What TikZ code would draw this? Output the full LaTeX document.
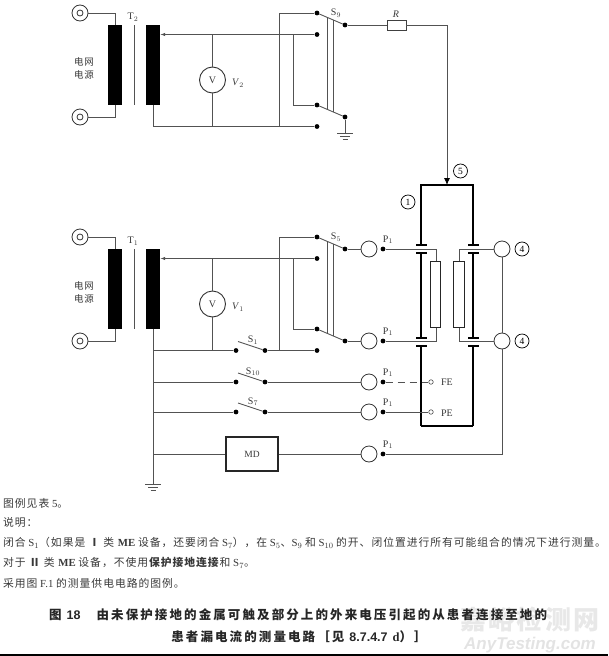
\documentclass[tikz,border=0pt]{standalone}
\usepackage{fontspec}
\setmainfont{Liberation Serif}
\newfontfamily\cjk[LetterSpace=9]{Noto Sans CJK SC}
\newfontfamily\cjkcap[LetterSpace=16.8]{Noto Sans CJK SC}
\newfontfamily\marksans{Liberation Sans}
\newcommand{\zh}[1]{{\cjk #1}}
\usetikzlibrary{positioning,arrows.meta,calc}
\definecolor{wirecol}{gray}{0.32}
\definecolor{inkcol}{gray}{0.22}
\tikzset{
  wire/.style={draw=wirecol, line width=.9pt},
  heavy/.style={draw=black, line width=1.5pt},
  dotnode/.style={circle, fill=black, inner sep=0pt, minimum size=4.8pt},
  jack/.style={circle, draw=black!80, line width=.8pt, inner sep=0pt, minimum size=16pt},
  winding/.style={rectangle, fill=black, inner sep=0pt, minimum width=14pt, minimum height=80pt},
  plate/.style={rectangle, fill=black, inner sep=0pt, minimum width=11pt, minimum height=1.7pt},
  elem/.style={rectangle, draw=black!85, line width=1pt, fill=white, inner sep=0pt, minimum width=10.5pt, minimum height=66pt},
  callout/.style={circle, draw=black, line width=.7pt, inner sep=0pt, minimum size=14pt, font=\fontsize{9.5}{9.5}\selectfont},
  lab/.style={text=inkcol, inner sep=0pt, font=\fontsize{10}{10}\selectfont},
  bodyline/.style={anchor=west, text=inkcol, inner sep=0pt, font=\fontsize{10.8}{11}\selectfont},
  capline/.style={text=black!85, inner sep=0pt, font=\cjkcap\bfseries\fontsize{12.5}{13}\selectfont},
}
\begin{document}
\begin{tikzpicture}[x=1pt,y=-1pt]
\useasboundingbox (0,0) rectangle (608,656);
% watermark
\node[text=black!9, inner sep=0pt, font=\cjk\bfseries\fontsize{26}{27}\selectfont] (markcn) at (530,619) {嘉峪检测网};
\node[text=black!11, inner sep=0pt, font=\marksans\bfseries\itshape\fontsize{17}{17}\selectfont] (markla) at (530,645) {AnyTesting.com};
% the two supply sections
\foreach \n/\y/\sw/\tr in {2/0/S$_9$/T$_2$,1/224/S$_5$/T$_1$}{
  \node[jack] (tta\n) at (80,13+\y) {};
  \node[jack] (ttb\n) at (80,117+\y) {};
  \node[circle, draw=black!80, line width=.8pt, inner sep=0pt, minimum size=6pt] (ttc\n) at (tta\n) {};
  \node[circle, draw=black!80, line width=.8pt, inner sep=0pt, minimum size=6pt] (ttd\n) at (ttb\n) {};
  \node[winding] (prim\n) at (115,65+\y) {};
  \node[winding] (sec\n) at (153,65+\y) {};
  \node[lab] (tlab\n) at (133,17+\y) {\tr};
  \node[lab, font=\fontsize{9.5}{10}\selectfont] (neta\n) at (84,62+\y) {\zh{电网}};
  \node[lab, font=\fontsize{9.5}{10}\selectfont] (netb\n) at (84,74.5+\y) {\zh{电源}};
  \node[circle, draw=black!80, line width=.9pt, inner sep=0pt, minimum size=26pt, text=inkcol, font=\fontsize{10}{10}\selectfont] (vm\n) at (212.5,80+\y) {V};
  \node[lab] (vlab\n) at (238,83+\y) {\textit{V}$_\n$};
  \foreach \k/\v in {a/13,b/34.5,c/105,d/126.5}{\node[dotnode] (sw\k\n) at (317,\v+\y) {};}
  \foreach \k/\v in {u/25,v/117}{\node[dotnode] (sw\k\n) at (345,\v+\y) {};}
  \node[lab] (swlab\n) at (336,13+\y) {\sw};
  \coordinate (core\n) at (134,25+\y);
  \coordinate (coree\n) at (134,105+\y);
  \coordinate (bus\n) at (279,126.5+\y);
  \coordinate (tap\n) at (293,34.5+\y);
  \draw[wire] (core\n) -- (coree\n);
  \draw[wire] (tta\n) -| (prim\n.north);
  \draw[wire] (ttb\n) -| (prim\n.south);
  \draw[wire, -{Latex[length=5pt,width=3.5pt]}] (swb\n) -- (swb\n -| sec\n.east);
  \draw[wire] (vm\n.north) -- (vm\n.north |- swb\n);
  \draw[wire] (vm\n.south) -- (vm\n.south |- swd\n);
  \draw[wire] (swa\n) -| (bus\n);
  \draw[wire] (swc\n) -| (tap\n);
  \draw[wire] (swa\n) -- (swu\n);
  \draw[wire] (swc\n) -- (swv\n);
  \draw[wire] ($(swa\n)!.39!(swu\n)$) -- ($(swc\n)!.39!(swv\n)$);
  \draw[wire] ($(swa\n)!.57!(swu\n)$) -- ($(swc\n)!.57!(swv\n)$);
}
\draw[wire] (sec2.south) |- (swd2);
% R and the feed to the enclosure
\node[rectangle, draw=black!75, line width=.7pt, inner sep=0pt, minimum width=19pt, minimum height=10pt] (res) at (396.5,25) {};
\node[lab] (reslab) at (396,14) {\textit{R}};
\coordinate (arrowtip) at (447,185);
\draw[wire] (swu2) -- (res);
\draw[wire, -{Latex[length=7pt,width=6pt,black]}] (res) -| (arrowtip);
% jacks with their P1 contacts
\foreach \k/\y in {a/249,b/341,c/382,d/412,e/454}{
  \node[jack] (j\k) at (369,\y) {};
  \node[dotnode] (p\k) at (383,\y) {};
  \node[lab] (plab\k) at (388,\y-9.5) {P$_1$};
}
\draw[wire] (swu1) -- (ja);
\draw[wire] (swv1) -- (jb);
\node[jack] (jra) at (502,249) {};
\node[jack] (jrb) at (502,341) {};
\node[callout] (cra) at (522,249) {4};
\node[callout] (crb) at (522,341) {4};
\node[callout] (cbox) at (408,202) {1};
\node[callout] (cfeed) at (460.5,171) {5};
% ME equipment
\foreach \s/\x in {L/421,R/473}{
  \foreach \k/\y in {a/245,b/253,c/338,d/346}{\node[plate] (pl\s\k) at (\x,\y) {};}
  \coordinate (ft\s) at (\x,426);
  \draw[heavy] (pl\s b) -- (pl\s c);
  \draw[heavy] (pl\s d) -- (ft\s);
}
\draw[heavy] (ftL) -- (ftR);
\draw[heavy] (plLa) -- (plLa |- arrowtip) -- (plRa |- arrowtip) -- (plRa);
\coordinate (inla) at (436,249); \coordinate (inlb) at (436,341);
\coordinate (inra) at (459,249); \coordinate (inrb) at (459,341);
\draw[wire] (pa) -- (inla) -- (inlb) -- (pb);
\draw[wire] (jra) -- (inra) -- (inrb) -- (jrb);
\node[elem] (elemL) at (435.5,294) {};
\node[elem] (elemR) at (459,294) {};
\node[circle, draw=black!70, line width=.6pt, fill=white, inner sep=0pt, minimum size=4.5pt] (fept) at (431,382) {};
\node[circle, draw=black!70, line width=.6pt, fill=white, inner sep=0pt, minimum size=4.5pt] (pept) at (431,412) {};
\node[lab] (felab) at (447,382) {FE};
\node[lab] (pelab) at (447,413) {PE};
\draw[wire, dash pattern=on 7pt off 5pt] (pc) -- (fept);
\draw[wire] (pd) -- (pept);
\draw[wire] (jra) -- (jrb);
\draw[wire] (pe) -| (jrb);
% switches on the bus
\foreach \n/\y/\lab/\tgt in {1/350.5/S$_1$/swd1,10/382/S$_{10}$/jc,7/412/S$_7$/jd}{
  \node[dotnode] (sa\n) at (236,\y) {};
  \node[dotnode] (sb\n) at (265,\y) {};
  \node[lab] (slab\n) at (253,\y-10.5) {\lab};
  \coordinate (blade\n) at (238,\y-9);
  \draw[wire] (sb\n) -- (blade\n);
  \draw[wire] (sb\n) -- (\tgt);
}
\coordinate (gndA) at (345,133);
\coordinate (gndB) at (153,484);
\draw[wire] (swv2) -- (gndA);
\draw[wire] (sec1.south) -- (gndB);
\foreach \n in {1,10,7}{\draw[wire] (sa\n) -- (sa\n -| gndB);}
\node[rectangle, draw=black!85, line width=1.1pt, inner sep=0pt, minimum width=52pt, minimum height=34pt, text=inkcol, font=\fontsize{9.5}{10}\selectfont] (md) at (252,454) {MD};
\draw[wire] (md.west) -- (md.west -| gndB);
\draw[wire] (md.east) -- (je);
\foreach \g in {gndA,gndB}{
  \draw[wire] ($(\g)+(-8,0)$) -- ($(\g)+(8,0)$);
  \draw[wire] ($(\g)+(-5,3)$) -- ($(\g)+(5,3)$);
  \draw[wire] ($(\g)+(-2.5,6)$) -- ($(\g)+(2.5,6)$);
}
% notes under the figure
\node[bodyline] (lnA) at (3,503) {\zh{图例见表} 5\zh{。}};
\node[bodyline] (lnB) at (3,522) {\zh{说明：}};
\node[bodyline] (lnC) at (3,543) {\zh{闭合} S$_1$\zh{（如果是} \textbf{\zh{Ⅰ}} \zh{类} \textbf{ME} \zh{设备，还要闭合} S$_7$\zh{），在} S$_5$\zh{、}S$_9$ \zh{和} S$_{10}$ \zh{的开、闭位置进行所有可能组合的情况下进行测量。}};
\node[bodyline] (lnD) at (3,563) {\zh{对于} \textbf{\zh{Ⅱ}} \zh{类} \textbf{ME} \zh{设备，不使用}\textbf{\zh{保护接地连接}}\zh{和} S$_7$\zh{。}};
\node[bodyline] (lnE) at (3,583) {\zh{采用图} F.1 \zh{的测量供电电路的图例。}};
\node[capline, anchor=west] (capA) at (49,615) {图 {\marksans 18}\hspace{16pt}由未保护接地的金属可触及部分上的外来电压引起的从患者连接至地的};
\node[capline] (capB) at (299,637) {患者漏电流的测量电路［见 {\marksans 8.7.4.7} \textbf{\rmfamily d}）］};
\draw[line width=1.6pt] (0,655.2) -- (608,655.2);
\end{tikzpicture}
\end{document}
